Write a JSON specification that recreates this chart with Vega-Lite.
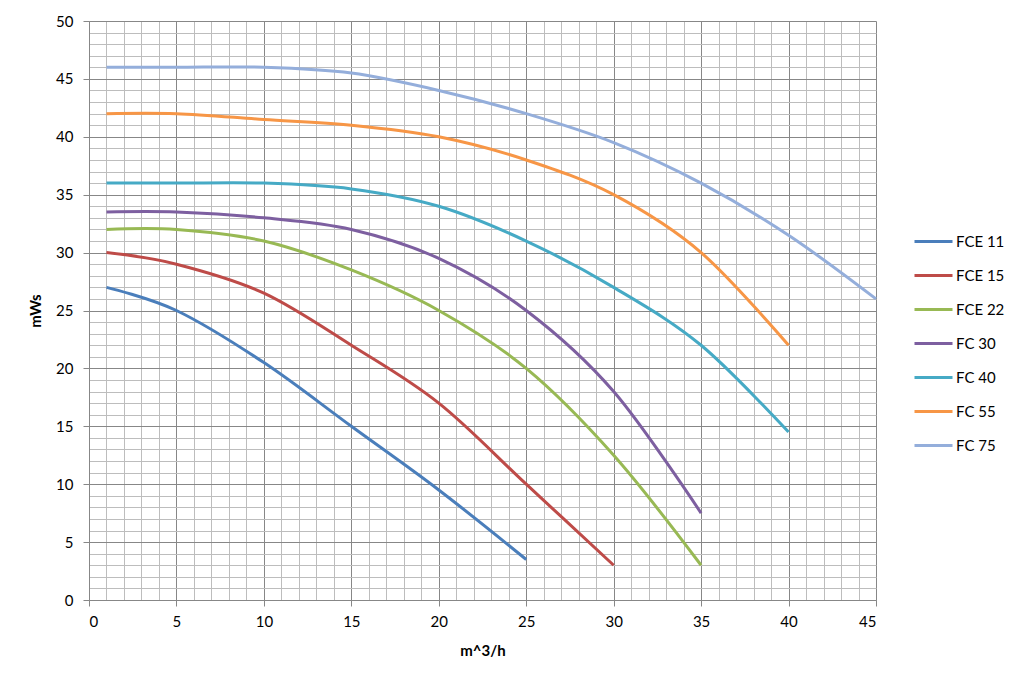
{
  "$schema": "https://vega.github.io/schema/vega-lite/v6.json",
  "width": 787,
  "height": 579,
  "autosize": {"type": "none"},
  "padding": {"left": 89, "top": 21, "right": 148, "bottom": 86},
  "background": "white",
  "config": {"view": {"stroke": null}, "font": "Lato"},
  "data": {"values": [
    {"series": "FCE 11", "q": 1, "h": 27},
    {"series": "FCE 11", "q": 5, "h": 25},
    {"series": "FCE 11", "q": 10, "h": 20.5},
    {"series": "FCE 11", "q": 15, "h": 15},
    {"series": "FCE 11", "q": 20, "h": 9.5},
    {"series": "FCE 11", "q": 25, "h": 3.5},
    {"series": "FCE 15", "q": 1, "h": 30},
    {"series": "FCE 15", "q": 5, "h": 29},
    {"series": "FCE 15", "q": 10, "h": 26.5},
    {"series": "FCE 15", "q": 15, "h": 22},
    {"series": "FCE 15", "q": 20, "h": 17},
    {"series": "FCE 15", "q": 25, "h": 10},
    {"series": "FCE 15", "q": 30, "h": 3},
    {"series": "FCE 22", "q": 1, "h": 32},
    {"series": "FCE 22", "q": 5, "h": 32},
    {"series": "FCE 22", "q": 10, "h": 31},
    {"series": "FCE 22", "q": 15, "h": 28.5},
    {"series": "FCE 22", "q": 20, "h": 25},
    {"series": "FCE 22", "q": 25, "h": 20},
    {"series": "FCE 22", "q": 30, "h": 12.5},
    {"series": "FCE 22", "q": 35, "h": 3},
    {"series": "FC 30", "q": 1, "h": 33.5},
    {"series": "FC 30", "q": 5, "h": 33.5},
    {"series": "FC 30", "q": 10, "h": 33},
    {"series": "FC 30", "q": 15, "h": 32},
    {"series": "FC 30", "q": 20, "h": 29.5},
    {"series": "FC 30", "q": 25, "h": 25},
    {"series": "FC 30", "q": 30, "h": 18},
    {"series": "FC 30", "q": 35, "h": 7.5},
    {"series": "FC 40", "q": 1, "h": 36},
    {"series": "FC 40", "q": 5, "h": 36},
    {"series": "FC 40", "q": 10, "h": 36},
    {"series": "FC 40", "q": 15, "h": 35.5},
    {"series": "FC 40", "q": 20, "h": 34},
    {"series": "FC 40", "q": 25, "h": 31},
    {"series": "FC 40", "q": 30, "h": 27},
    {"series": "FC 40", "q": 35, "h": 22},
    {"series": "FC 40", "q": 40, "h": 14.5},
    {"series": "FC 55", "q": 1, "h": 42},
    {"series": "FC 55", "q": 5, "h": 42},
    {"series": "FC 55", "q": 10, "h": 41.5},
    {"series": "FC 55", "q": 15, "h": 41},
    {"series": "FC 55", "q": 20, "h": 40},
    {"series": "FC 55", "q": 25, "h": 38},
    {"series": "FC 55", "q": 30, "h": 35},
    {"series": "FC 55", "q": 35, "h": 30},
    {"series": "FC 55", "q": 40, "h": 22},
    {"series": "FC 75", "q": 1, "h": 46},
    {"series": "FC 75", "q": 5, "h": 46},
    {"series": "FC 75", "q": 10, "h": 46},
    {"series": "FC 75", "q": 15, "h": 45.5},
    {"series": "FC 75", "q": 20, "h": 44},
    {"series": "FC 75", "q": 25, "h": 42},
    {"series": "FC 75", "q": 30, "h": 39.5},
    {"series": "FC 75", "q": 35, "h": 36},
    {"series": "FC 75", "q": 40, "h": 31.5},
    {"series": "FC 75", "q": 45, "h": 26}
  ]},
  "layer": [
    {
      "mark": {"type": "line", "opacity": 0},
      "encoding": {
        "x": {"field": "q", "type": "quantitative", "scale": {"domain": [0, 45], "nice": false},
          "axis": {"orient": "top", "values": [1,2,3,4,6,7,8,9,11,12,13,14,16,17,18,19,21,22,23,24,26,27,28,29,31,32,33,34,36,37,38,39,41,42,43,44],
            "grid": true, "gridColor": "#bdbdbd", "gridWidth": 1, "labels": false, "ticks": false, "domain": false, "title": null}},
        "y": {"field": "h", "type": "quantitative", "scale": {"domain": [0, 50], "nice": false},
          "axis": {"orient": "right", "values": [1,2,3,4,6,7,8,9,11,12,13,14,16,17,18,19,21,22,23,24,26,27,28,29,31,32,33,34,36,37,38,39,41,42,43,44,46,47,48,49],
            "grid": true, "gridColor": "#bdbdbd", "gridWidth": 1, "labels": false, "ticks": false, "domain": false, "title": null}},
        "detail": {"field": "series"}
      }
    },
    {
      "mark": {"type": "line", "strokeWidth": 3, "interpolate": "cardinal", "tension": 0},
      "encoding": {
        "x": {"field": "q", "type": "quantitative", "scale": {"domain": [0, 45], "nice": false},
          "axis": {"orient": "bottom", "values": [0,5,10,15,20,25,30,35,40,45], "grid": true, "gridColor": "#878787", "gridWidth": 1,
            "domainColor": "#878787", "tickColor": "#878787", "tickSize": 6, "labelPadding": 8, "labelFontSize": 15, "labelColor": "#000000", "labelFont": "Lato",
            "title": "m^3/h", "titleFontSize": 15, "titleFontWeight": "bold", "titleColor": "#000000", "titlePadding": 14, "titleFont": "Lato"}},
        "y": {"field": "h", "type": "quantitative", "scale": {"domain": [0, 50], "nice": false},
          "axis": {"orient": "left", "values": [0,5,10,15,20,25,30,35,40,45,50], "grid": true, "gridColor": "#878787", "gridWidth": 1,
            "domainColor": "#878787", "tickColor": "#878787", "tickSize": 6, "labelPadding": 10, "labelFontSize": 15, "labelColor": "#000000", "labelFont": "Lato",
            "title": "mWs", "titleFontSize": 15, "titleFontWeight": "bold", "titleColor": "#000000", "titlePadding": 12, "titleFont": "Lato"}},
        "color": {"field": "series", "type": "nominal",
          "scale": {"domain": ["FCE 11", "FCE 15", "FCE 22", "FC 30", "FC 40", "FC 55", "FC 75"],
                    "range": ["#4a7ebb", "#be4b48", "#98b954", "#7d5fa0", "#46aac5", "#f79646", "#94aedb"]},
          "legend": {"title": null, "orient": "none", "legendX": 824, "legendY": 200, "symbolType": "stroke", "symbolSize": 1444, "symbolStrokeWidth": 3,
            "labelFontSize": 15, "labelFont": "Lato", "labelColor": "#000000", "labelOffset": 2, "rowPadding": 5}}
      }
    }
  ],
  "resolve": {"axis": {"x": "independent", "y": "independent"}}
}
